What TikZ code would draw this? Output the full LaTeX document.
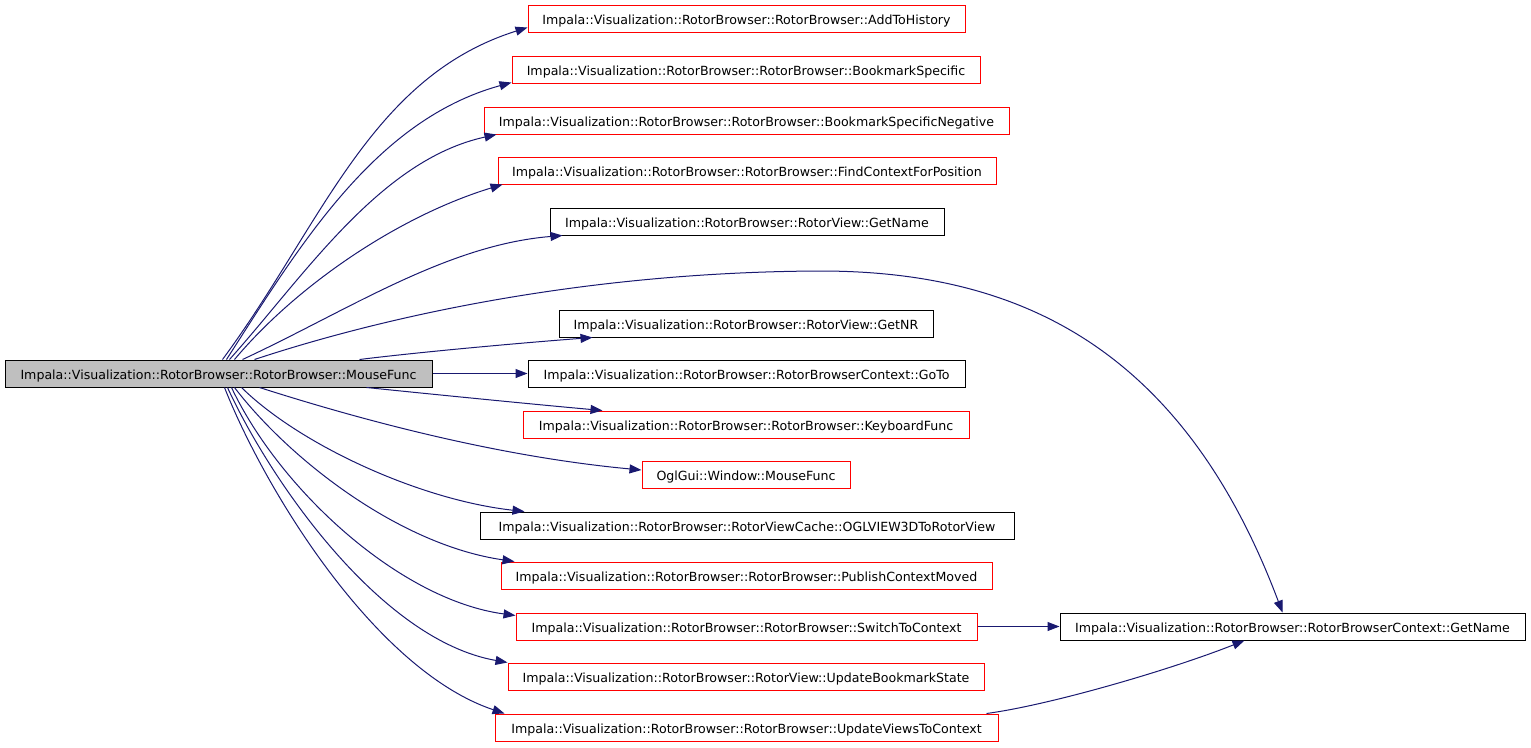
\documentclass[tikz,border=0pt]{standalone}
\usepackage{fontspec}
\setmainfont{DejaVu Sans}
\usetikzlibrary{arrows.meta}
\definecolor{edgeblue}{HTML}{191970}
\definecolor{curgray}{HTML}{BFBFBF}
\begin{document}
\begin{tikzpicture}[x=1pt, y=-1pt,
		fnbox/.style={draw=black, line width=1pt, minimum height=27pt, inner sep=0pt, text height=11pt, text depth=0pt, font=\fontsize{12.6}{15}\selectfont},
		nodoc/.style={fnbox, draw=red},
		curbox/.style={fnbox, fill=curgray},
		callarrow/.style={draw=edgeblue, line width=1pt, -{Triangle[length=12pt, width=9pt]}}]
		\useasboundingbox (0,0) rectangle (1531,747);
		\node[curbox, minimum width=427pt] (main) at (218.5,373.5) {Impala::Visualization::RotorBrowser::RotorBrowser::MouseFunc};
		\node[nodoc, minimum width=437pt] (addhist) at (746.5,18.5) {Impala::Visualization::RotorBrowser::RotorBrowser::AddToHistory};
		\node[nodoc, minimum width=468pt] (bmspec) at (746,69.5) {Impala::Visualization::RotorBrowser::RotorBrowser::BookmarkSpecific};
		\node[nodoc, minimum width=525pt] (bmneg) at (746.5,120.5) {Impala::Visualization::RotorBrowser::RotorBrowser::BookmarkSpecificNegative};
		\node[nodoc, minimum width=498pt] (findctx) at (747,170.5) {Impala::Visualization::RotorBrowser::RotorBrowser::FindContextForPosition};
		\node[fnbox, minimum width=394pt] (viewname) at (747,221.5) {Impala::Visualization::RotorBrowser::RotorView::GetName};
		\node[fnbox, minimum width=374pt] (getnr) at (746,323.5) {Impala::Visualization::RotorBrowser::RotorView::GetNR};
		\node[fnbox, minimum width=437pt] (gotoctx) at (746.5,373.5) {Impala::Visualization::RotorBrowser::RotorBrowserContext::GoTo};
		\node[nodoc, minimum width=446pt] (keyfunc) at (746,424.5) {Impala::Visualization::RotorBrowser::RotorBrowser::KeyboardFunc};
		\node[nodoc, minimum width=208pt] (oglmouse) at (746,474.5) {OglGui::Window::MouseFunc};
		\node[fnbox, minimum width=534pt] (ogl3d) at (747,525.5) {Impala::Visualization::RotorBrowser::RotorViewCache::OGLVIEW3DToRotorView};
		\node[nodoc, minimum width=491pt] (publish) at (746.5,575.5) {Impala::Visualization::RotorBrowser::RotorBrowser::PublishContextMoved};
		\node[nodoc, minimum width=461pt] (switchctx) at (746.5,626.5) {Impala::Visualization::RotorBrowser::RotorBrowser::SwitchToContext};
		\node[nodoc, minimum width=476pt] (bmstate) at (746,676.5) {Impala::Visualization::RotorBrowser::RotorView::UpdateBookmarkState};
		\node[nodoc, minimum width=503pt] (updviews) at (746.5,727.5) {Impala::Visualization::RotorBrowser::RotorBrowser::UpdateViewsToContext};
		\node[fnbox, minimum width=465pt] (ctxname) at (1292.5,626.5) {Impala::Visualization::RotorBrowser::RotorBrowserContext::GetName};
		% calls going up
		\draw[callarrow] ([xshift=218pt]main.north west) .. controls (322,225) and (370,77) .. ([yshift=5pt]addhist.south west);
		\draw[callarrow] ([xshift=222pt]main.north west) .. controls (300,245) and (375,120) .. ([yshift=1pt]bmspec.south west);
		\draw[callarrow] ([xshift=225pt]main.north west) .. controls (305,275) and (380,160) .. ([xshift=13pt]bmneg.south west);
		\draw[callarrow] ([xshift=230pt]main.north west) .. controls (297,285) and (399,216) .. ([xshift=5pt]findctx.south west);
		\draw[callarrow] ([xshift=238pt]main.north west) .. controls (347,311) and (446,245) .. ([xshift=13pt]viewname.south west);
		\draw[callarrow] ([xshift=250pt]main.north west) .. controls (380,318) and (580,272) .. (820,271) .. controls (1010,271) and (1180,340) .. ([xshift=223pt]ctxname.north west);
		\draw[callarrow] ([xshift=355pt]main.north west) .. controls (420,352) and (520,343) .. ([xshift=34pt]getnr.south west);
		\draw[callarrow] (main.east) -- (gotoctx.west);
		% calls going down
		\draw[callarrow] ([xshift=362pt]main.south west) .. controls (430,394) and (530,404) .. ([xshift=80pt]keyfunc.north west);
		\draw[callarrow] ([xshift=255pt]main.south west) .. controls (330,410) and (480,455) .. ([yshift=4.5pt]oglmouse.west);
		\draw[callarrow] ([xshift=237pt]main.south west) .. controls (300,445) and (420,500) .. ([xshift=45pt]ogl3d.north west);
		\draw[callarrow] ([xshift=230pt]main.south west) .. controls (290,460) and (400,545) .. ([xshift=14pt]publish.north west);
		\draw[callarrow] ([xshift=227pt]main.south west) .. controls (280,490) and (400,600) .. ([yshift=-3pt]switchctx.north west);
		\draw[callarrow] ([xshift=223pt]main.south west) .. controls (270,480) and (380,640) .. (bmstate.north west);
		\draw[callarrow] ([xshift=220pt]main.south west) .. controls (265,490) and (375,670) .. ([xshift=10pt]updviews.north west);
		% second level
		\draw[callarrow] (switchctx.east) -- (ctxname.west);
		\draw[callarrow] ([xshift=-12pt]updviews.north east) .. controls (1050,705) and (1170,670) .. ([xshift=185pt]ctxname.south west);
	\end{tikzpicture}
\end{document}
